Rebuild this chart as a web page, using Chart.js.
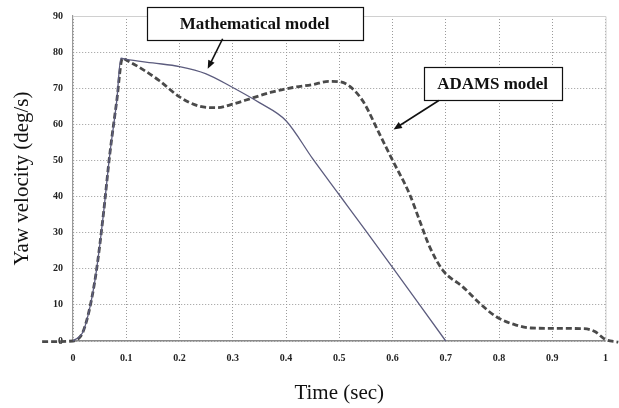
<!DOCTYPE html>
<html>
<head>
<meta charset="utf-8">
<script src="https://cdn.jsdelivr.net/npm/chart.js@4"></script>
<style>
  html, body { margin: 0; padding: 0; background: #fff; }
  #wrap { width: 619px; height: 408px; }
</style>
</head>
<body>
<div id="wrap"><canvas id="yawChart"></canvas></div>
<script>
// yaw velocity response, time in seconds
const mathTime = [0, 0.019, 0.032, 0.044, 0.057, 0.069, 0.082, 0.09, 0.1, 0.15, 0.2, 0.25, 0.3, 0.35, 0.4, 0.45, 0.5, 0.55, 0.6, 0.65, 0.7];
const mathYaw  = [0, 2.6, 9.5, 19.5, 35, 51.6, 66.3, 78.3, 78, 77, 76, 74, 70.2, 66, 61, 50.5, 40.5, 30.5, 20.4, 10.2, 0];

const adamsTime = [-0.058, 0, 0.01, 0.019, 0.032, 0.044, 0.057, 0.069, 0.082, 0.093, 0.1, 0.13, 0.163, 0.2, 0.238, 0.27, 0.3, 0.337, 0.375, 0.413, 0.45, 0.48, 0.5, 0.52, 0.545, 0.576, 0.601, 0.632, 0.651, 0.67, 0.695, 0.732, 0.764, 0.795, 0.832, 0.86, 0.9, 0.96, 0.98, 1.0, 1.024];
const adamsYaw  = [-0.2, 0, 0.6, 2.6, 9.5, 19.5, 35, 51.6, 66.3, 78.3, 77.8, 75.3, 72, 67.6, 65, 64.6, 65.6, 67.3, 69, 70.2, 71, 71.9, 71.8, 70.5, 66.3, 57.2, 49.8, 40.7, 33.3, 26, 19.5, 15, 10.4, 6.7, 4.4, 3.6, 3.5, 3.4, 2.6, 0.4, -0.3];

const xTicks = [0, 0.1, 0.2, 0.3, 0.4, 0.5, 0.6, 0.7, 0.8, 0.9, 1];
const yTicks = [0, 10, 20, 30, 40, 50, 60, 70, 80, 90];

// callout boxes and arrows, placed in data units
const callouts = [
  { text: "Mathematical model", x: 0.341, y: 88, w: 216, h: 33, from: [0.281, 83.7], to: [0.253, 75.4] },
  { text: "ADAMS model", x: 0.788, y: 71.2, w: 138, h: 33, from: [0.687, 66.6], to: [0.602, 58.6] },
];

const toPoints = (xs, ys) => xs.map((x, i) => ({ x: x, y: ys[i] }));

const frameAndCallouts = {
  id: "frameAndCallouts",
  beforeDatasetsDraw(chart) {
    const { ctx, chartArea: a } = chart;
    ctx.save();
    ctx.strokeStyle = "#d0d0d0";
    ctx.lineWidth = 1;
    ctx.beginPath();
    ctx.moveTo(a.left, a.top + 0.5);
    ctx.lineTo(a.right + 0.5, a.top + 0.5);
    ctx.lineTo(a.right + 0.5, a.bottom);
    ctx.stroke();
    ctx.restore();
  },
  afterDraw(chart) {
    const { ctx, scales } = chart;
    const sx = scales.x, sy = scales.y;
    ctx.save();
    callouts.forEach((c) => {
      const cx = sx.getPixelForValue(c.x);
      const cy = sy.getPixelForValue(c.y);
      const left = Math.round(cx - c.w / 2) + 0.5;
      const top = Math.round(cy - c.h / 2) + 0.5;
      ctx.fillStyle = "#fff";
      ctx.fillRect(left, top, c.w, c.h);
      ctx.strokeStyle = "#111";
      ctx.lineWidth = 1.2;
      ctx.strokeRect(left, top, c.w, c.h);
      ctx.fillStyle = "#111";
      ctx.font = "bold 17px 'Liberation Serif'";
      ctx.textAlign = "center";
      ctx.textBaseline = "middle";
      ctx.fillText(c.text, cx, cy + 1);

      // arrow
      const x1 = sx.getPixelForValue(c.from[0]), y1 = sy.getPixelForValue(c.from[1]);
      const x2 = sx.getPixelForValue(c.to[0]), y2 = sy.getPixelForValue(c.to[1]);
      const ang = Math.atan2(y2 - y1, x2 - x1);
      const head = 9;
      ctx.lineWidth = 1.6;
      ctx.beginPath();
      ctx.moveTo(x1, y1);
      ctx.lineTo(x2 - Math.cos(ang) * head * 0.7, y2 - Math.sin(ang) * head * 0.7);
      ctx.stroke();
      ctx.beginPath();
      ctx.moveTo(x2, y2);
      ctx.lineTo(x2 - head * Math.cos(ang - 0.4), y2 - head * Math.sin(ang - 0.4));
      ctx.lineTo(x2 - head * Math.cos(ang + 0.4), y2 - head * Math.sin(ang + 0.4));
      ctx.closePath();
      ctx.fill();
    });
    ctx.restore();
  },
};

const tickFont = { family: "'Liberation Serif'", size: 10, weight: "bold" };
const titleFont = { family: "'Liberation Serif'", size: 21 };

new Chart(document.getElementById("yawChart"), {
  type: "line",
  data: {
    datasets: [
      {
        label: "Mathematical model",
        data: toPoints(mathTime, mathYaw),
        borderColor: "#5c5c7e",
        borderWidth: 1.3,
        pointRadius: 0,
        cubicInterpolationMode: "monotone",
        clip: false,
      },
      {
        label: "ADAMS model",
        data: toPoints(adamsTime, adamsYaw),
        borderColor: "#4a4a4a",
        borderWidth: 2.8,
        borderDash: [6, 3],
        pointRadius: 0,
        cubicInterpolationMode: "monotone",
        clip: false,
      },
    ],
  },
  options: {
    responsive: true,
    maintainAspectRatio: false,
    animation: false,
    layout: { padding: { left: 0, right: 13, top: 14, bottom: 0 } },
    plugins: {
      legend: { display: false },
      tooltip: { enabled: false },
    },
    scales: {
      x: {
        type: "linear",
        // range fixed here rather than via min/max so the tails outside 0..1 stay drawn
        afterDataLimits: (scale) => { scale.min = 0; scale.max = 1; },
        afterFit: (scale) => { scale.height = 67; },
        afterBuildTicks: (scale) => { scale.ticks = xTicks.map((v) => ({ value: v })); },
        grid: { color: "#9a9a9a", lineWidth: 1, drawTicks: false },
        border: { display: true, color: "#8a8a8a", width: 1.5, dash: [1, 2] },
        ticks: {
          font: tickFont,
          color: "#222",
          padding: 11,
          maxRotation: 0,
          callback: (v) => String(v),
        },
        title: {
          display: true,
          text: "Time (sec)",
          font: titleFont,
          color: "#111",
          padding: { top: 0, bottom: 2 },
        },
      },
      y: {
        min: 0,
        max: 90,
        afterFit: (scale) => { scale.width = 73; },
        afterBuildTicks: (scale) => { scale.ticks = yTicks.map((v) => ({ value: v })); },
        grid: { color: "#9a9a9a", lineWidth: 1, drawTicks: false },
        border: { display: true, color: "#9a9a9a", width: 1.2, dash: [1, 2] },
        ticks: {
          font: tickFont,
          color: "#222",
          padding: 10,
          callback: (v) => String(v),
        },
        title: {
          display: true,
          text: "Yaw velocity (deg/s)",
          font: titleFont,
          color: "#111",
          padding: { top: 10, bottom: 0 },
        },
      },
    },
  },
  plugins: [frameAndCallouts],
});
</script>
</body>
</html>
